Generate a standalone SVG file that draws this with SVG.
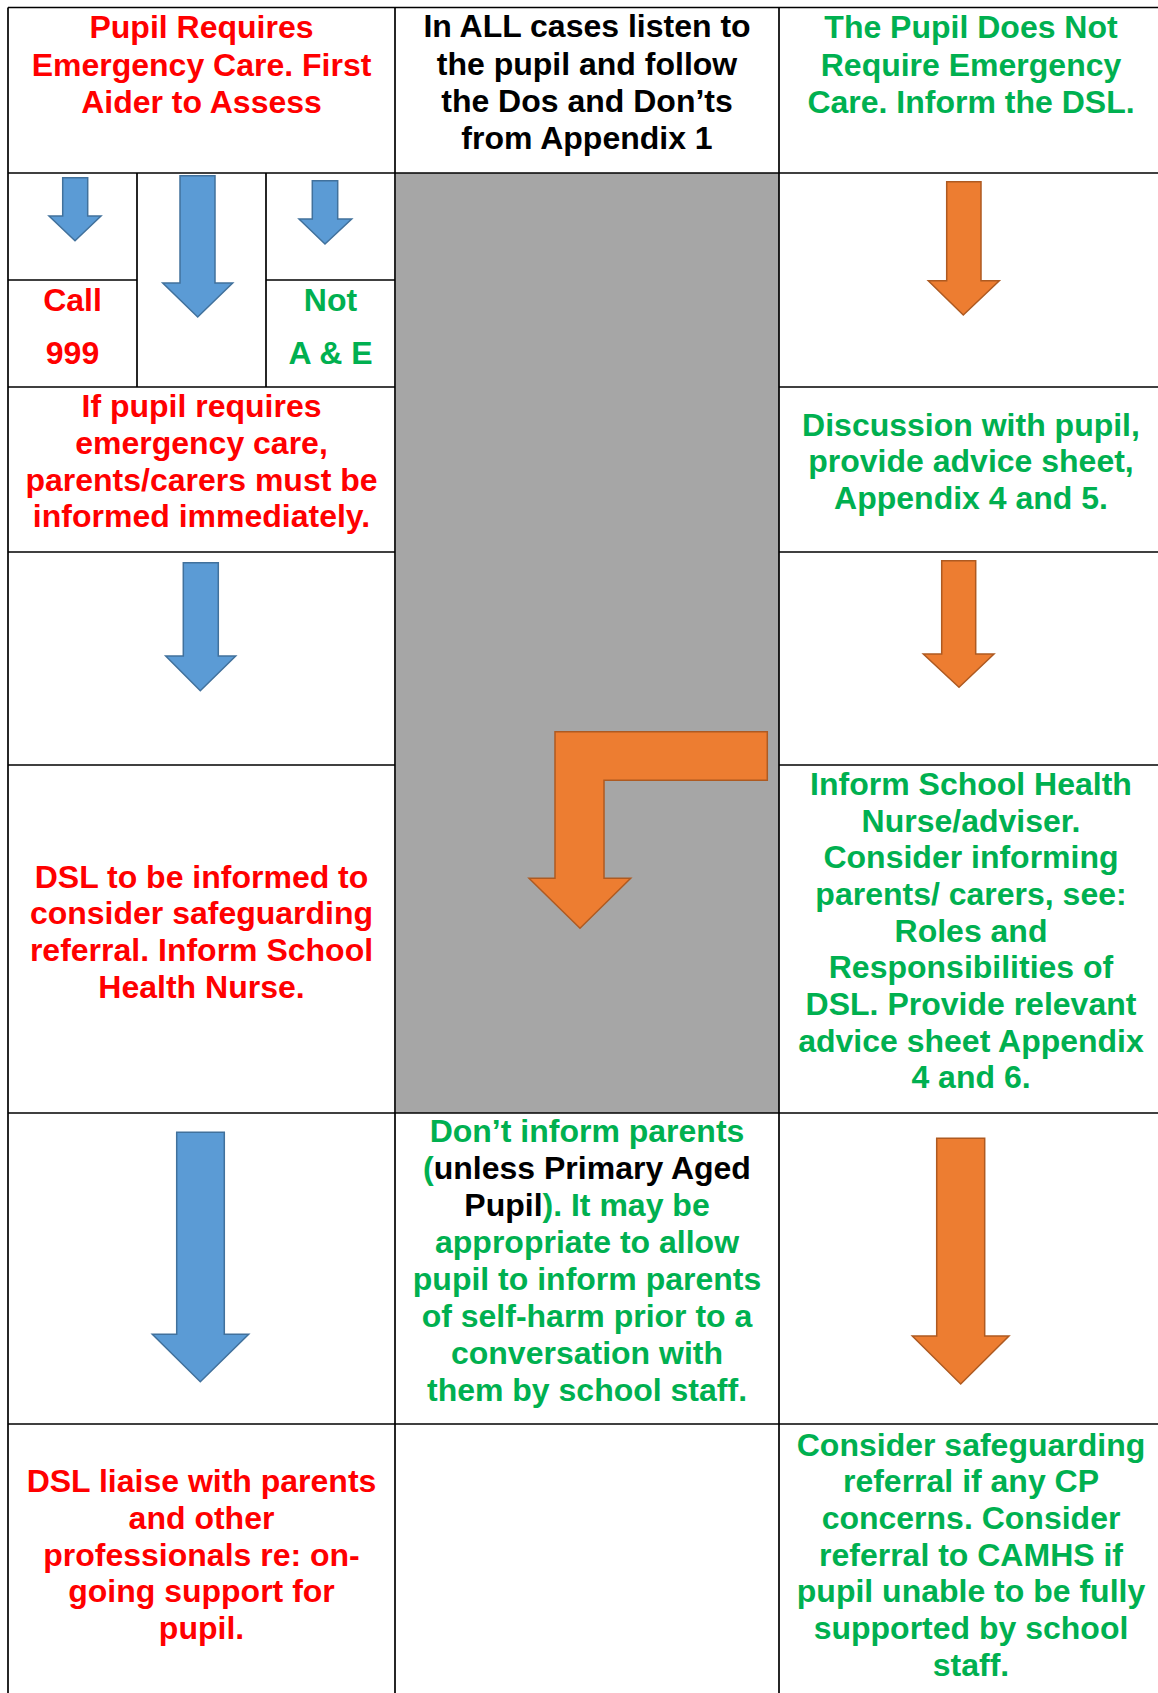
<svg xmlns="http://www.w3.org/2000/svg" width="1158" height="1693" viewBox="0 0 1158 1693">
<style>
  .t{font-family:"Liberation Sans",Arial,sans-serif;font-weight:bold;font-size:32px;text-anchor:middle}
  .r{fill:#FF0000}
  .g{fill:#00B050}
  .k{fill:#000000}
  .grid{stroke:#000;stroke-width:1.7;fill:none}
  .blue{fill:#5B9BD5;stroke:#41719C;stroke-width:1.5}
  .orange{fill:#ED7D31;stroke:#AE5A21;stroke-width:1.5}
</style>
<rect width="1158" height="1693" fill="#fff"/>
<rect id="gray-cell" x="396" y="173" width="383" height="940" fill="#A6A6A6"/>
<g id="grid" class="grid">
  <line x1="8" y1="7.5" x2="1158" y2="7.5"/>
  <line x1="8" y1="173" x2="1158" y2="173"/>
  <line x1="8" y1="387" x2="395" y2="387"/>
  <line x1="779" y1="387" x2="1158" y2="387"/>
  <line x1="8" y1="280" x2="137" y2="280"/>
  <line x1="266" y1="280" x2="395" y2="280"/>
  <line x1="8" y1="552" x2="395" y2="552"/>
  <line x1="779" y1="552" x2="1158" y2="552"/>
  <line x1="8" y1="765" x2="395" y2="765"/>
  <line x1="779" y1="765" x2="1158" y2="765"/>
  <line x1="8" y1="1113" x2="1158" y2="1113"/>
  <line x1="8" y1="1424" x2="1158" y2="1424"/>
  <line x1="8" y1="7.5" x2="8" y2="1693"/>
  <line x1="395" y1="7.5" x2="395" y2="1693"/>
  <line x1="779" y1="7.5" x2="779" y2="1693"/>
  <line x1="137" y1="173" x2="137" y2="387"/>
  <line x1="266" y1="173" x2="266" y2="387"/>
</g>
<g id="n-emergency">
  <text class="t r"><tspan x="201.5" y="38.2">Pupil Requires</tspan><tspan x="201.5" y="75.5">Emergency Care. First</tspan><tspan x="201.5" y="112.8">Aider to Assess</tspan></text>
</g>
<g id="n-all-cases">
  <text class="t k"><tspan x="587" y="37.2">In ALL cases listen to</tspan><tspan x="587" y="74.5">the pupil and follow</tspan><tspan x="587" y="111.5">the Dos and Don’ts</tspan><tspan x="587" y="148.5">from Appendix 1</tspan></text>
</g>
<g id="n-not-emergency">
  <text class="t g"><tspan x="971" y="38.2">The Pupil Does Not</tspan><tspan x="971" y="75.5">Require Emergency</tspan><tspan x="971" y="112.8">Care. Inform the DSL.</tspan></text>
</g>
<g id="n-call999">
  <text class="t r"><tspan x="72.5" y="311.2">Call</tspan><tspan x="72.5" y="363.8">999</tspan></text>
</g>
<g id="n-not-ae">
  <text class="t g"><tspan x="330.5" y="311.2">Not</tspan><tspan x="330.5" y="363.8">A &amp; E</tspan></text>
</g>
<g id="n-parents-informed">
  <text class="t r"><tspan x="201.5" y="417.2">If pupil requires</tspan><tspan x="201.5" y="453.8">emergency care,</tspan><tspan x="201.5" y="490.5">parents/carers must be</tspan><tspan x="201.5" y="527.2">informed immediately.</tspan></text>
</g>
<g id="n-discussion">
  <text class="t g"><tspan x="971" y="435.5">Discussion with pupil,</tspan><tspan x="971" y="472.2">provide advice sheet,</tspan><tspan x="971" y="508.8">Appendix 4 and 5.</tspan></text>
</g>
<g id="n-dsl-informed">
  <text class="t r"><tspan x="201.5" y="887.5">DSL to be informed to</tspan><tspan x="201.5" y="924.2">consider safeguarding</tspan><tspan x="201.5" y="960.9">referral. Inform School</tspan><tspan x="201.5" y="997.6">Health Nurse.</tspan></text>
</g>
<g id="n-school-nurse">
  <text class="t g"><tspan x="971" y="794.8">Inform School Health</tspan><tspan x="971" y="831.5">Nurse/adviser.</tspan><tspan x="971" y="868.2">Consider informing</tspan><tspan x="971" y="904.8">parents/ carers, see:</tspan><tspan x="971" y="941.5">Roles and</tspan><tspan x="971" y="978.2">Responsibilities of</tspan><tspan x="971" y="1014.8">DSL. Provide relevant</tspan><tspan x="971" y="1051.5">advice sheet Appendix</tspan><tspan x="971" y="1088.2">4 and 6.</tspan></text>
</g>
<g id="n-dont-inform">
  <text class="t g"><tspan x="587" y="1142.2">Don’t inform parents</tspan><tspan x="587" y="1179.2">(<tspan class="k">unless Primary Aged</tspan></tspan><tspan x="587" y="1216.2"><tspan class="k">Pupil</tspan>). It may be</tspan><tspan x="587" y="1253.2">appropriate to allow</tspan><tspan x="587" y="1290.2">pupil to inform parents</tspan><tspan x="587" y="1327.2">of self-harm prior to a</tspan><tspan x="587" y="1364.2">conversation with</tspan><tspan x="587" y="1401.2">them by school staff.</tspan></text>
</g>
<g id="n-dsl-liaise">
  <text class="t r"><tspan x="201.5" y="1492.2">DSL liaise with parents</tspan><tspan x="201.5" y="1528.8">and other</tspan><tspan x="201.5" y="1565.5">professionals re: on-</tspan><tspan x="201.5" y="1602.2">going support for</tspan><tspan x="201.5" y="1638.8">pupil.</tspan></text>
</g>
<g id="n-consider-referral">
  <text class="t g"><tspan x="971" y="1455.5">Consider safeguarding</tspan><tspan x="971" y="1492.2">referral if any CP</tspan><tspan x="971" y="1528.8">concerns. Consider</tspan><tspan x="971" y="1565.5">referral to CAMHS if</tspan><tspan x="971" y="1602.2">pupil unable to be fully</tspan><tspan x="971" y="1638.8">supported by school</tspan><tspan x="971" y="1675.5">staff.</tspan></text>
</g>
<g id="connectors">
  <polygon class="blue" points="62.7,177.7 87.7,177.7 87.7,216 101,216 75,240.7 49,216 62.7,216"/>
  <polygon class="blue" points="180,175.7 215,175.7 215,283 232.7,283 197.7,317 162.7,283 180,283"/>
  <polygon class="blue" points="312.3,180.7 337.7,180.7 337.7,219 351.7,219 325,244 299,219 312.3,219"/>
  <polygon class="orange" points="946.7,181.7 981,181.7 981,280.7 999.3,280.7 963.3,315 928.3,280.7 946.7,280.7"/>
  <polygon class="blue" points="183.3,562.7 218.3,562.7 218.3,656 235.7,656 200.3,690.7 165.7,656 183.3,656"/>
  <polygon class="orange" points="941.7,560.7 975.7,560.7 975.7,654 994,654 959,687.3 923.3,654 941.7,654"/>
  <polygon class="orange" points="555,731.7 767.3,731.7 767.3,780.3 604,780.3 604,878.3 630.7,878.3 580,928.3 529,878.3 555,878.3"/>
  <polygon class="blue" points="176.7,1132.3 224.3,1132.3 224.3,1334.3 248.7,1334.3 200.3,1381.7 152.3,1334.3 176.7,1334.3"/>
  <polygon class="orange" points="936.7,1138.3 984.7,1138.3 984.7,1336 1009,1336 960.7,1384 912.3,1336 936.7,1336"/>
</g>
</svg>
